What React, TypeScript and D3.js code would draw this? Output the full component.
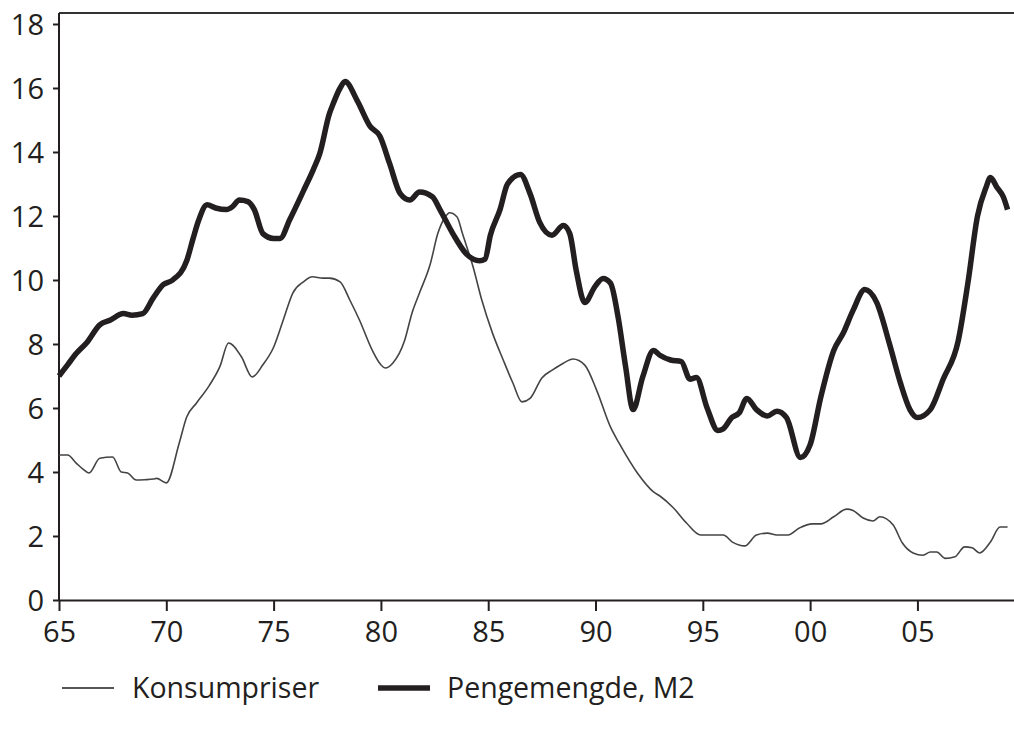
import { useEffect, useRef } from "react";
import * as d3 from "d3";

// Konsumpriser (thin line)
const cpiYears = [
  1965.0, 1965.4, 1965.8, 1966.1, 1966.4, 1966.9, 1967.5, 1967.9, 1968.2, 1968.6,
  1969.0, 1969.4, 1969.55, 1970.0, 1970.6, 1970.95, 1971.4, 1972.0, 1972.5, 1972.9,
  1973.5, 1974.0, 1974.5, 1975.0, 1975.45, 1975.9, 1976.4, 1976.8, 1977.3, 1977.6,
  1978.1, 1978.55, 1979.0, 1979.6, 1980.0, 1980.2, 1980.55, 1981.1, 1981.45, 1981.8,
  1982.3, 1982.65, 1983.0, 1983.2, 1983.55, 1983.8, 1984.3, 1984.7, 1985.2, 1985.7,
  1986.15, 1986.57, 1986.95, 1987.5, 1988.0, 1988.5, 1988.95, 1989.5, 1990.05, 1990.7,
  1991.1, 1991.95, 1992.7, 1993.0, 1993.6, 1994.25, 1994.9, 1995.3, 1995.95, 1996.4,
  1996.95, 1997.5, 1998.0, 1998.45, 1998.97, 1999.5, 2000.1, 2000.5, 2001.1, 2001.7,
  2002.0, 2002.47, 2002.93, 2003.25, 2003.87, 2004.3, 2004.8, 2005.26, 2005.6, 2005.9,
  2006.3, 2006.75, 2007.2, 2007.55, 2007.9, 2008.4, 2008.85, 2009.2,
];
const cpiValues = [
  4.53, 4.53, 4.28, 4.1, 3.97, 4.43, 4.47, 4.0, 3.97, 3.75,
  3.76, 3.78, 3.8, 3.66, 4.9, 5.72, 6.15, 6.7, 7.3, 8.03,
  7.6, 6.97, 7.35, 7.9, 8.75, 9.6, 9.95, 10.1, 10.06, 10.06,
  9.94, 9.375, 8.75, 7.8, 7.35, 7.25, 7.4, 8.1, 8.97, 9.6,
  10.5, 11.45, 11.97, 12.1, 11.97, 11.45, 10.4, 9.375, 8.34, 7.5,
  6.78, 6.19, 6.3, 6.94, 7.19, 7.4, 7.53, 7.34, 6.56, 5.4,
  4.9, 3.97, 3.38, 3.25, 2.9, 2.4, 2.03, 2.03, 2.03, 1.8,
  1.69, 2.03, 2.09, 2.03, 2.03, 2.25, 2.38, 2.38, 2.6, 2.84,
  2.8, 2.56, 2.47, 2.6, 2.34, 1.78, 1.47, 1.4, 1.5, 1.5,
  1.3, 1.35, 1.66, 1.63, 1.47, 1.81, 2.28, 2.28,
];

// Pengemengde, M2 (thick line)
const m2Years = [
  1965.0, 1965.4, 1965.8, 1966.3, 1966.9, 1967.4, 1968.0, 1968.4, 1968.9, 1969.4,
  1969.85, 1970.3, 1970.95, 1971.25, 1971.5, 1971.9, 1972.3, 1972.8, 1973.1, 1973.4,
  1973.8, 1974.1, 1974.5, 1975.0, 1975.3, 1975.76, 1976.4, 1976.85, 1977.15, 1977.6,
  1977.77, 1978.1, 1978.33, 1978.9, 1979.5, 1979.95, 1980.4, 1980.9, 1981.35, 1981.8,
  1982.4, 1982.75, 1983.35, 1984.0, 1984.6, 1984.85, 1985.1, 1985.55, 1985.9, 1986.5,
  1986.95, 1987.4, 1987.97, 1988.5, 1988.8, 1989.1, 1989.5, 1989.98, 1990.35, 1990.7,
  1991.05, 1991.4, 1991.75, 1992.2, 1992.7, 1993.0, 1993.5, 1994.0, 1994.4, 1994.7,
  1995.2, 1995.7, 1995.95, 1996.35, 1996.7, 1997.05, 1997.5, 1998.0, 1998.45, 1998.9,
  1999.55, 2000.0, 2000.5, 2001.1, 2001.55, 2002.0, 2002.55, 2003.1, 2003.7, 2004.2,
  2004.65, 2005.0, 2005.6, 2006.2, 2006.9, 2007.35, 2007.8, 2008.2, 2008.4, 2008.7,
  2009.0, 2009.2,
];
const m2Values = [
  7.0, 7.35, 7.7, 8.05, 8.6, 8.75, 8.95, 8.9, 8.95, 9.45,
  9.85, 10.0, 10.6, 11.3, 11.85, 12.35, 12.25, 12.2, 12.3, 12.5,
  12.45, 12.2, 11.45, 11.3, 11.3, 11.9, 12.8, 13.45, 13.95, 15.2,
  15.5, 16.0, 16.2, 15.6, 14.8, 14.5, 13.65, 12.7, 12.5, 12.75,
  12.6, 12.2, 11.45, 10.8, 10.6, 10.65, 11.4, 12.2, 13.0, 13.3,
  12.7, 11.8, 11.4, 11.7, 11.45, 10.3, 9.3, 9.8, 10.05, 9.9,
  8.85, 7.3, 5.95, 6.97, 7.8, 7.65, 7.5, 7.45, 6.9, 6.95,
  6.0, 5.3, 5.35, 5.7, 5.85, 6.3, 5.95, 5.75, 5.9, 5.7,
  4.45, 4.85, 6.35, 7.8, 8.35, 9.05, 9.7, 9.3, 8.0, 6.8,
  5.95, 5.7, 5.95, 6.9, 8.1, 9.9, 12.0, 12.9, 13.2, 12.9,
  12.6, 12.2,
];

const xTicks = [1965, 1970, 1975, 1980, 1985, 1990, 1995, 2000, 2005];
const xTickLabels = ["65", "70", "75", "80", "85", "90", "95", "00", "05"];
const yTicks = [0, 2, 4, 6, 8, 10, 12, 14, 16, 18];

const seriesNames = ["Konsumpriser", "Pengemengde, M2"];

export default function App() {
  const svgRef = useRef<SVGSVGElement>(null);

  useEffect(() => {
    const w = 1014;
    const h = 731;
    const left = 59;
    const right = 1014;
    const bottom = 600;
    const top = 13;
    const font = "'Open Sans', sans-serif";

    const svg = d3.select(svgRef.current);
    svg.selectAll("*").remove();
    svg.attr("width", w).attr("height", h);

    const x = d3.scaleLinear().domain([1965, 2009.5]).range([left, right]);
    const y = d3.scaleLinear().domain([0, 18]).range([bottom, bottom - 18 * 32]);

    // top frame line
    svg
      .append("line")
      .attr("x1", left)
      .attr("x2", right)
      .attr("y1", top)
      .attr("y2", top)
      .attr("stroke", "#333")
      .attr("stroke-width", 2);

    // y axis
    const yAxis = svg
      .append("g")
      .attr("transform", `translate(${left},0)`)
      .call(
        d3
          .axisLeft(y)
          .tickValues(yTicks)
          .tickSize(6)
          .tickPadding(9)
          .tickSizeOuter(0)
      );
    yAxis.select(".domain").attr("d", `M0,${bottom}V${top}`);

    // x axis
    const xAxis = svg
      .append("g")
      .attr("transform", `translate(0,${bottom})`)
      .call(
        d3
          .axisBottom(x)
          .tickValues(xTicks)
          .tickFormat((d, i) => xTickLabels[i])
          .tickSize(11)
          .tickPadding(10)
          .tickSizeOuter(0)
      );

    [xAxis, yAxis].forEach((g) => {
      g.select(".domain").attr("stroke", "#231f20").attr("stroke-width", 2);
      g.selectAll(".tick line").attr("stroke", "#231f20").attr("stroke-width", 2);
      g.selectAll("text")
        .attr("fill", "#231f20")
        .style("font-family", font)
        .style("font-size", "29px");
    });
    yAxis.selectAll("text").attr("dy", "0.36em");
    xAxis.selectAll("text").attr("dy", "0.72em");

    const line = d3
      .line<[number, number]>()
      .x((d) => x(d[0]))
      .y((d) => y(d[1]))
      .curve(d3.curveMonotoneX);

    const cpi = cpiYears.map((yr, i) => [yr, cpiValues[i]] as [number, number]);
    const m2 = m2Years.map((yr, i) => [yr, m2Values[i]] as [number, number]);

    svg
      .append("path")
      .datum(cpi)
      .attr("d", line)
      .attr("fill", "none")
      .attr("stroke", "#444")
      .attr("stroke-width", 1.6)
      .attr("stroke-linejoin", "round");

    svg
      .append("path")
      .datum(m2)
      .attr("d", line)
      .attr("fill", "none")
      .attr("stroke", "#231f20")
      .attr("stroke-width", 5.5)
      .attr("stroke-linejoin", "round");

    // legend
    const legend = svg.append("g").attr("transform", "translate(0,688)");
    const items = [
      { x: 62, tx: 132, w: 1.8, color: "#555", name: seriesNames[0] },
      { x: 378, tx: 447, w: 5.5, color: "#231f20", name: seriesNames[1] },
    ];
    items.forEach((it) => {
      legend
        .append("line")
        .attr("x1", it.x)
        .attr("x2", it.x + 52)
        .attr("y1", 0)
        .attr("y2", 0)
        .attr("stroke", it.color)
        .attr("stroke-width", it.w);
      legend
        .append("text")
        .attr("x", it.tx)
        .attr("y", 0)
        .attr("dy", "0.36em")
        .attr("fill", "#231f20")
        .style("font-family", font)
        .style("font-size", "28.5px")
        .text(it.name);
    });
  }, []);

  return (
    <div style={{ position: "absolute", left: 0, top: 0 }}>
      <svg ref={svgRef}></svg>
    </div>
  );
}
